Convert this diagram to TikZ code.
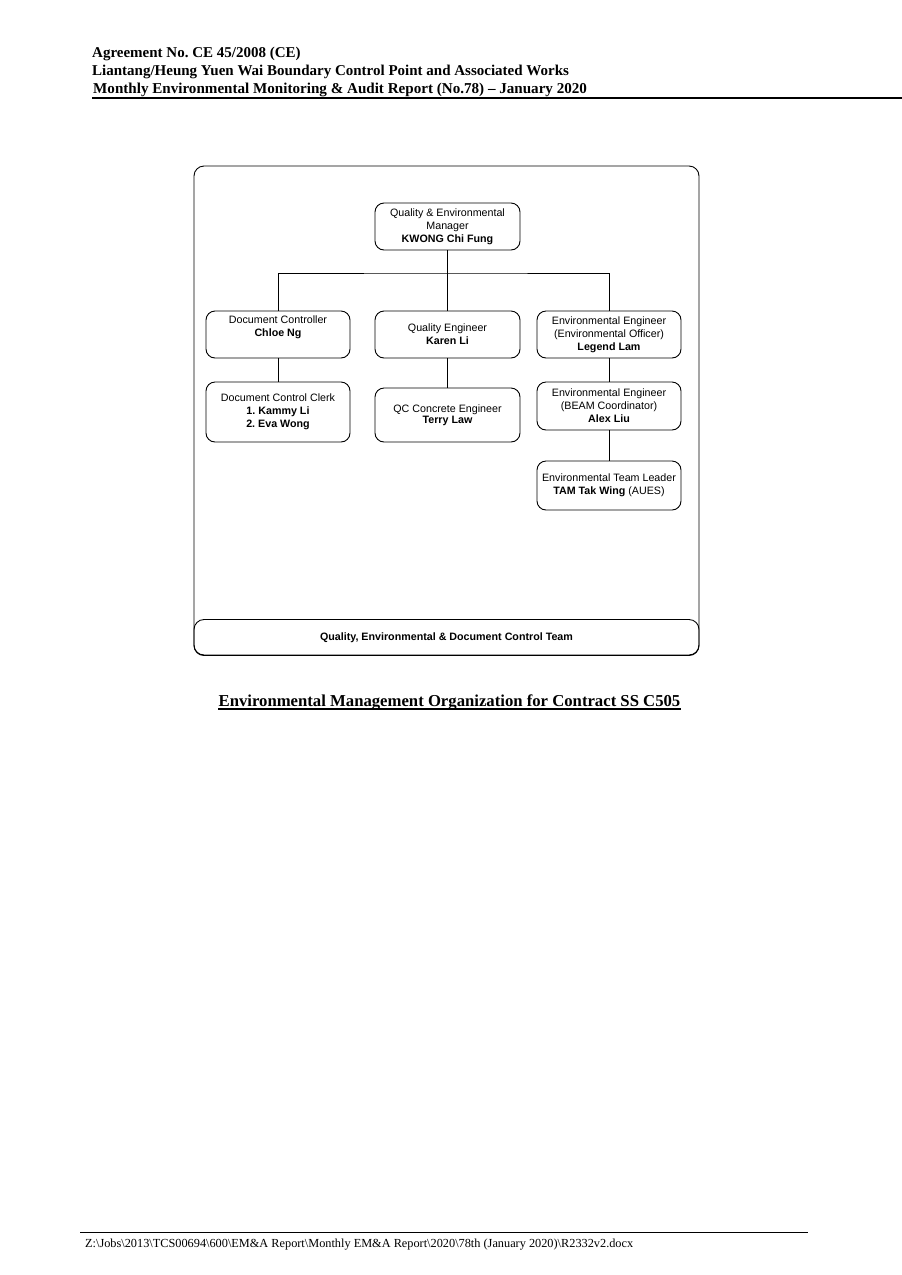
\documentclass[tikz,border=0pt]{standalone}
\usepackage{fontspec}
\setmainfont{Liberation Serif}
\setsansfont{Liberation Sans}
\begin{document}
\begin{tikzpicture}[x=1pt,y=-1pt,
  orgbox/.style={draw=black, line width=0.9pt, rounded corners=9pt, inner sep=0pt,
    align=center, font=\sffamily\fontsize{10.7}{13}\selectfont},
  conn/.style={draw=black, line width=0.9pt},
  hdr/.style={anchor=base west, inner sep=0pt, font=\bfseries\fontsize{15}{18}\selectfont}]
\useasboundingbox[fill=white] (0,0) rectangle (902,1275);

% header
\node[hdr] (h1) at (92,57) {Agreement No.\ CE 45/2008 (CE)};
\node[hdr] (h2) at (92,75) {Liantang/Heung Yuen Wai Boundary Control Point and Associated Works};
\node[hdr, font=\bfseries\fontsize{15.1}{18}\selectfont] (h3) at (93,93) {Monthly Environmental Monitoring \& Audit Report (No.78) -- January 2020};
\draw[line width=2pt] (92,97.5) -- (902,97.5);

% outer frame
\draw[line width=0.9pt, rounded corners=10pt] (194,166) rectangle (699,655);
\node[draw=black, line width=0.9pt, rounded corners=10pt, minimum width=505pt, minimum height=36pt,
  inner sep=0pt, font=\sffamily\bfseries\fontsize{10.7}{13}\selectfont] (team) at (446.5,637.5)
  {Quality, Environmental \& Document Control Team};

% boxes
\node[orgbox, minimum width=145pt, minimum height=47pt] (mgr) at (447.5,226.5)
  {Quality \& Environmental\\Manager\\\textbf{KWONG Chi Fung}};
\node[orgbox, minimum width=144pt, minimum height=47pt] (dc) at (278,334.5)
  {Document Controller\\\textbf{Chloe Ng}\\\strut};
\node[orgbox, minimum width=145pt, minimum height=47pt] (qe) at (447.5,334.5)
  {Quality Engineer\\\textbf{Karen Li}};
\node[orgbox, minimum width=144pt, minimum height=47pt] (env) at (609,334.5)
  {Environmental Engineer\\(Environmental Officer)\\\textbf{Legend Lam}};
\node[orgbox, minimum width=144pt, minimum height=60pt] (clerk) at (278,412)
  {Document Control Clerk\\\textbf{1.\ Kammy Li}\\\textbf{2.\ Eva Wong}};
\node[orgbox, minimum width=145pt, minimum height=54pt] (qc) at (447.5,415)
  {QC Concrete Engineer\\[-2pt]\textbf{Terry Law}};
\node[orgbox, minimum width=144pt, minimum height=48pt] (beam) at (609,406)
  {Environmental Engineer\\(BEAM Coordinator)\\\textbf{Alex Liu}};
\node[orgbox, minimum width=144pt, minimum height=49pt] (etl) at (609,485.5)
  {Environmental Team Leader\\\textbf{TAM Tak Wing} (AUES)};

% connectors
\coordinate (bus) at (447.5,273);
\draw[conn] (mgr.south) -- (bus);
\draw[conn] (dc.north) |- (bus) -| (env.north);
\draw[conn] (bus) -- (qe.north);
\draw[conn] (dc.south) -- (clerk.north);
\draw[conn] (qe.south) -- (qc.north);
\draw[conn] (env.south) -- (beam.north);
\draw[conn] (beam.south) -- (etl.north);

% caption
\node[anchor=base, inner sep=0pt, font=\bfseries\fontsize{16.7}{20}\selectfont] (cap) at (449.5,706)
  {Environmental Management Organization for Contract SS C505};
\draw[line width=1.3pt] ([yshift=-3pt]cap.base west) -- ([yshift=-3pt]cap.base east);

% footer
\draw[line width=0.7pt] (80,1232.5) -- (808,1232.5);
\node[anchor=base west, inner sep=0pt, font=\fontsize{12.3}{14}\selectfont] (foot) at (85,1247)
  {Z:\textbackslash Jobs\textbackslash 2013\textbackslash TCS00694\textbackslash 600\textbackslash EM\&A Report\textbackslash Monthly EM\&A Report\textbackslash 2020\textbackslash 78th (January 2020)\textbackslash R2332v2.docx};
\end{tikzpicture}
\end{document}
